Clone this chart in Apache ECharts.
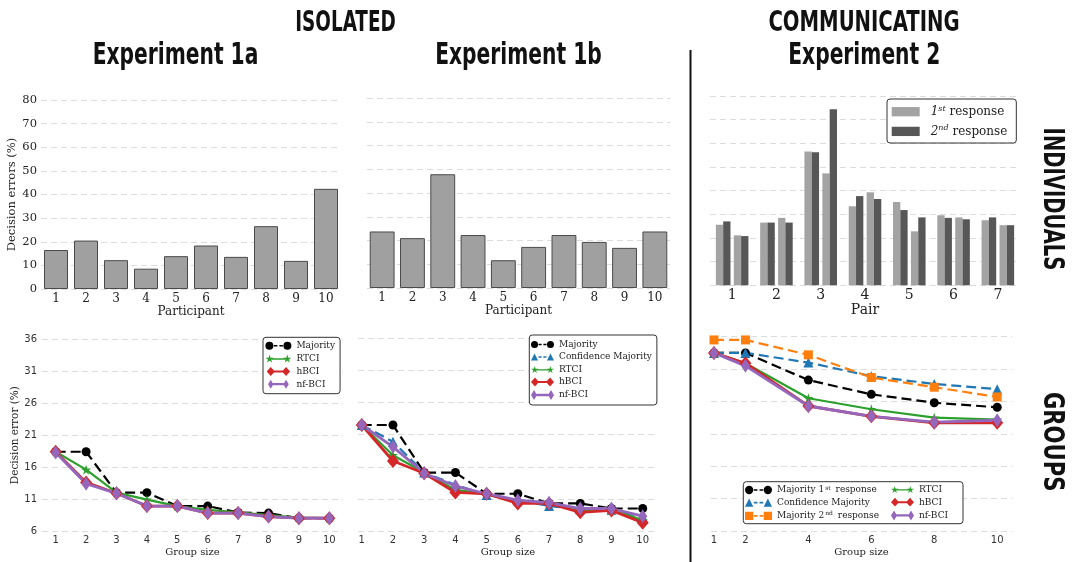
<!DOCTYPE html>
<html><head><meta charset="utf-8">
<script src="https://cdn.jsdelivr.net/npm/echarts@6/dist/echarts.min.js"></script>
<style>html,body{margin:0;padding:0;background:#fff}#c{width:1075px;height:562px}</style>
</head><body><div id="c"></div><script>
// ---------- data ----------
const participants = ['1','2','3','4','5','6','7','8','9','10'];
const exp1aErrors = [16.5, 20.5, 12.2, 8.6, 13.9, 18.4, 13.6, 26.6, 11.9, 42.4];
const exp1bErrors = [23.8, 21.0, 47.9, 22.3, 11.7, 17.3, 22.3, 19.4, 16.9, 23.8];
const pairs = ['1','2','3','4','5','6','7'];
const firstResponse  = [25.6, 21.1, 26.5, 28.5, 56.5, 47.3, 33.4, 39.3, 35.2, 22.8, 29.6, 28.7, 27.5, 25.4];
const secondResponse = [27.0, 20.8, 26.5, 26.5, 56.2, 74.4, 37.7, 36.5, 31.8, 28.7, 28.5, 27.9, 28.7, 25.4];
const groupSizes1 = [1,2,3,4,5,6,7,8,9,10];
const exp1aMajority = [18.4, 18.4, 12.0, 12.0, 9.9, 9.9, 8.9, 8.8, 8.0, 8.0];
const exp1aRTCI     = [18.4, 15.6, 12.0, 10.9, 9.9, 9.3, 8.9, 8.5, 8.1, 8.0];
const exp1aHBCI     = [18.4, 13.6, 11.9, 9.9, 9.9, 8.8, 8.8, 8.25, 8.0, 8.0];
const exp1aNfBCI    = [18.3, 13.4, 11.9, 9.9, 9.9, 8.8, 8.8, 8.25, 8.0, 8.0];
const exp1bMajority     = [22.5, 22.5, 15.1, 15.1, 11.8, 11.8, 10.3, 10.3, 9.5, 9.5];
const exp1bConfMajority = [22.5, 19.9, 15.1, 13.2, 11.6, 10.8, 9.9, 9.4, 9.3, 8.2];
const exp1bRTCI         = [22.5, 17.8, 15.1, 12.4, 11.8, 10.6, 10.3, 9.3, 9.3, 7.7];
const exp1bHBCI         = [22.5, 16.9, 15.0, 12.0, 11.8, 10.3, 10.3, 8.9, 9.2, 7.3];
const exp1bNfBCI        = [22.5, 19.1, 15.0, 13.0, 11.8, 10.8, 10.4, 9.5, 9.5, 8.3];
const groupSizes2 = [1,2,4,6,8,10];
const exp2Majority1    = [33.5, 33.5, 29.3, 27.1, 25.8, 25.1];
const exp2ConfMajority = [33.5, 33.5, 32.0, 29.9, 28.7, 27.9];
const exp2Majority2    = [35.5, 35.5, 33.2, 29.7, 28.2, 26.7];
const exp2RTCI         = [33.5, 31.9, 26.5, 24.8, 23.5, 23.2];
const exp2HBCI         = [33.5, 31.9, 25.3, 23.7, 22.7, 22.7];
const exp2NfBCI        = [33.5, 31.5, 25.3, 23.7, 22.8, 23.1];

// ---------- style ----------
const SERIF = "'DejaVu Serif', serif";
const SANS = "'DejaVu Sans', sans-serif";
const COND = "'DejaVu Sans Condensed','DejaVu Sans',sans-serif";
const C = {maj:'#000000', conf:'#1f77b4', maj2:'#ff7f0e', rtci:'#2ca02c', hbci:'#d62728', nf:'#9467bd'};
const STAR = 'path://M50,0 L61,35 L98,35 L68,57 L79,91 L50,70 L21,91 L32,57 L2,35 L39,35 Z';
const DASHL = ' M8.5,4.2h3.5v1.6h-3.5z M14,4.2h3.5v1.6h-3.5z';
const ICON = {
  circ: 'path://M0,5a4,4 0 1,0 8,0a4,4 0 1,0 -8,0z M18,5a4,4 0 1,0 8,0a4,4 0 1,0 -8,0z' + DASHL,
  tri:  'path://M0,9L4,1L8,9z M18,9L22,1L26,9z' + DASHL,
  sq:   'path://M0,1h8v8h-8z M18,1h8v8h-8z' + DASHL,
  star: 'path://M4,0.5L5,3.6L8.2,3.6L5.6,5.5L6.6,8.6L4,6.7L1.4,8.6L2.4,5.5L-0.2,3.6L3,3.6z M22,0.5L23,3.6L26.2,3.6L23.6,5.5L24.6,8.6L22,6.7L19.4,8.6L20.4,5.5L17.8,3.6L21,3.6z M6,4.2h14v1.4h-14z',
  dia:  'path://M0,5L4.5,0L9,5L4.5,10z M17,5L21.5,0L26,5L21.5,10z M8,3.9h10v2.2h-10z',
  thin: 'path://M1.5,5L4.5,0L7.5,5L4.5,10z M18.5,5L21.5,0L24.5,5L21.5,10z M7,3.8h12v2.4h-12z',
  box:  'path://M0,0h28v9.3h-28z'
};

function pts(xs, ys){ return xs.map((x,i)=>[x, ys[i]]); }
function lineSeries(name, xs, ys, axis, kind){
  const base = {name, type:'line', xAxisIndex:axis, yAxisIndex:axis, data:pts(xs, ys),
    showSymbol:true, animation:false, z:3};
  const dash = [10,5];
  if (kind==='maj')  Object.assign(base,{symbol:'circle', symbolSize:9, itemStyle:{color:C.maj}, lineStyle:{color:C.maj, width:2.2, type:dash}});
  if (kind==='conf') Object.assign(base,{symbol:'triangle', symbolSize:10, itemStyle:{color:C.conf}, lineStyle:{color:C.conf, width:2.2, type:dash}});
  if (kind==='maj2') Object.assign(base,{symbol:'rect', symbolSize:9, itemStyle:{color:C.maj2}, lineStyle:{color:C.maj2, width:2.2, type:dash}});
  if (kind==='rtci') Object.assign(base,{symbol:STAR, symbolSize:10, itemStyle:{color:C.rtci}, lineStyle:{color:C.rtci, width:2.2}});
  if (kind==='hbci') Object.assign(base,{symbol:'diamond', symbolSize:[12,14], itemStyle:{color:C.hbci}, lineStyle:{color:C.hbci, width:2.8}});
  if (kind==='nf')   Object.assign(base,{symbol:'diamond', symbolSize:[9,14], itemStyle:{color:C.nf}, lineStyle:{color:C.nf, width:2.8}});
  return base;
}

function pairRender(k){
  return function(params, api){
    const idx = api.value(0);
    const band = api.size([1,0])[0];
    const w = band*0.165, g = band*0.075;
    const start = -(4*w+g)/2;
    const base = api.coord([idx, 0]);
    const children = [];
    for (let j=0;j<2;j++){
      const top = api.coord([idx, api.value(1+j)]);
      const left = base[0] + start + (2*j+k)*w + j*g;
      children.push({type:'rect', shape:{x:left, y:top[1], width:w, height:base[1]-top[1]},
        style:{fill: api.visual('color')}});
    }
    return {type:'group', children};
  };
}

const gridLine = {show:true, lineStyle:{color:'#dcdcdc', width:1, type:[6,4]}};
const grids = [
  {left:41, top:100, width:300, height:189},
  {left:367, top:98, width:303, height:190},
  {left:710, top:96, width:310, height:189.3},
  {left:42, top:339.3, width:301, height:191.7},
  {left:358, top:338.3, width:300, height:192.7},
  {left:711, top:336.7, width:301, height:194.3}
];
function catX(gi, data, fs, name, gap){
  return {type:'category', gridIndex:gi, data, axisLine:{show:false}, axisTick:{show:false},
    axisLabel:{fontFamily:SERIF, fontSize:fs, color:'#222', margin: fs>12?3:4},
    name, nameLocation:'middle', nameGap:gap, nameTextStyle:{fontFamily:SERIF, fontSize: fs>12?14:12, color:'#222'}};
}
function valX(gi, min, max, labels){
  return {type:'value', gridIndex:gi, min, max, axisLine:{show:false}, axisTick:{show:false}, splitLine:{show:false},
    axisLabel:{customValues:labels, fontFamily:SANS, fontSize:10, color:'#333', margin:4},
    name:'Group size', nameLocation:'middle', nameGap:16, nameTextStyle:{fontFamily:SERIF, fontSize:10, color:'#222'}};
}
function barY(gi, labels, name){
  return {type:'value', gridIndex:gi, min:0, max:80, interval:10, splitLine:gridLine,
    axisLine:{show:false}, axisTick:{show:false},
    axisLabel:{show:labels, fontFamily:SERIF, fontSize:11.5, color:'#222', margin:4},
    name: name||'', nameLocation:'middle', nameGap:17, nameTextStyle:{fontFamily:SERIF, fontSize:11.5, color:'#222'}};
}
function errY(gi, labels, name){
  return {type:'value', gridIndex:gi, min:6, max:36, interval:5, splitLine:gridLine,
    axisLine:{show:false}, axisTick:{show:false},
    axisLabel:{show:labels, fontFamily:SANS, fontSize:10, color:'#333', margin:5},
    name: name||'', nameLocation:'middle', nameGap:19, nameTextStyle:{fontFamily:SERIF, fontSize:10.5, color:'#222'}};
}

const pairData1 = pairs.map((p,i)=>[i, firstResponse[2*i], firstResponse[2*i+1]]);
const pairData2 = pairs.map((p,i)=>[i, secondResponse[2*i], secondResponse[2*i+1]]);

const legendBase = {orient:'vertical', borderColor:'#333', borderWidth:1, borderRadius:3, backgroundColor:'#fff',
  itemStyle:{borderWidth:0}, selectedMode:false, z:10};
const exp2Rich = {
  t:{fontFamily:SERIF, fontSize:9, lineHeight:10, color:'#222'},
  s:{fontFamily:SERIF, fontSize:6, lineHeight:6, verticalAlign:'top', color:'#222', padding:[0,2,0,1]}};

function titleText(text, x, y, size, sx, rot){
  return {type:'text', x, y, scaleX:sx, rotation:rot||0,
    style:{text, fontFamily:COND, fontWeight:'bold', fontSize:size, fill:'#111', align:'center', verticalAlign:'middle'}};
}

const option = {
  animation:false,
  backgroundColor:'#fff',
  grid: grids,
  xAxis: [
    catX(0, participants, 12, 'Participant', 15),
    catX(1, participants, 12, 'Participant', 15),
    catX(2, pairs, 14, 'Pair', 18),
    valX(3, 0.55, 10.45, groupSizes1),
    valX(4, 0.88, 10.49, groupSizes1),
    valX(5, 0.905, 10.47, groupSizes2)
  ],
  yAxis: [
    barY(0, true, 'Decision errors (%)'),
    barY(1, false),
    barY(2, false),
    errY(3, true, 'Decision error (%)'),
    errY(4, false),
    errY(5, false)
  ],
  legend: [
    Object.assign({}, legendBase, {left:887, top:99, padding:[5.7,9,5.6,4.7], itemWidth:28, itemHeight:14, itemGap:6.7,
      data:[{name:'1st response', icon:ICON.box}, {name:'2nd response', icon:ICON.box}],
      formatter: n => n==='1st response' ? '{m|1}{s|st}{t| response}' : '{m|2}{s|nd}{t| response}',
      textStyle:{rich:{
        m:{fontFamily:SERIF, fontStyle:'italic', fontSize:12, lineHeight:14, color:'#222', padding:[0,0,0,6]},
        s:{fontFamily:SERIF, fontStyle:'italic', fontSize:8, lineHeight:9, verticalAlign:'top', color:'#222'},
        t:{fontFamily:SERIF, fontSize:12, lineHeight:14, color:'#222'}}}}),
    Object.assign({}, legendBase, {left:263, top:337.3, padding:[4,5,5,2.4], itemWidth:26, itemHeight:9, itemGap:3.8,
      data:[{name:'Majority', icon:ICON.circ}, {name:'RTCI', icon:ICON.star}, {name:'hBCI', icon:ICON.dia}, {name:'nf-BCI', icon:ICON.thin}],
      textStyle:{fontFamily:SERIF, fontSize:9, color:'#222'}}),
    Object.assign({}, legendBase, {left:529.3, top:335, padding:[5,5,5,1.7], itemWidth:23, itemHeight:10, itemGap:3.5,
      data:[{name:'Majority', icon:ICON.circ}, {name:'Confidence Majority', icon:ICON.tri}, {name:'RTCI', icon:ICON.star}, {name:'hBCI', icon:ICON.dia}, {name:'nf-BCI', icon:ICON.thin}],
      textStyle:{fontFamily:SERIF, fontSize:9, color:'#222'}}),
    Object.assign({}, legendBase, {left:743.3, top:481.7, padding:[3.3,84,3.3,1.7], itemWidth:27, itemHeight:10, itemGap:3.7,
      data:[{name:'Majority 1st response', icon:ICON.circ}, {name:'Confidence Majority', icon:ICON.tri}, {name:'Majority 2nd response', icon:ICON.sq}],
      formatter: n => n==='Majority 1st response' ? '{t|Majority 1}{s|st}{t| response}'
                    : n==='Majority 2nd response' ? '{t|Majority 2}{s|nd}{t| response}' : '{t|'+n+'}',
      textStyle:{rich:exp2Rich}}),
    Object.assign({}, legendBase, {left:891, top:485, padding:0, borderWidth:0, backgroundColor:'transparent', z:11,
      itemWidth:23, itemHeight:10, itemGap:3.7,
      data:[{name:'RTCI', icon:ICON.star}, {name:'hBCI', icon:ICON.dia}, {name:'nf-BCI', icon:ICON.thin}],
      formatter: n => '{t|'+n+'}',
      textStyle:{rich:exp2Rich}})
  ],
  series: [
    {name:'Exp1a', type:'bar', xAxisIndex:0, yAxisIndex:0, data:exp1aErrors, barWidth:'80%',
      itemStyle:{color:'#a0a0a0', borderColor:'#4a4a4a', borderWidth:1}},
    {name:'Exp1b', type:'bar', xAxisIndex:1, yAxisIndex:1, data:exp1bErrors, barWidth:'82%',
      itemStyle:{color:'#a0a0a0', borderColor:'#4a4a4a', borderWidth:1}},
    {name:'1st response', type:'custom', xAxisIndex:2, yAxisIndex:2, data:pairData1, renderItem:pairRender(0),
      encode:{x:0, y:[1,2]}, itemStyle:{color:'#a3a3a3'}},
    {name:'2nd response', type:'custom', xAxisIndex:2, yAxisIndex:2, data:pairData2, renderItem:pairRender(1),
      encode:{x:0, y:[1,2]}, itemStyle:{color:'#575757'}},
    lineSeries('Majority', groupSizes1, exp1aMajority, 3, 'maj'),
    lineSeries('RTCI', groupSizes1, exp1aRTCI, 3, 'rtci'),
    lineSeries('hBCI', groupSizes1, exp1aHBCI, 3, 'hbci'),
    lineSeries('nf-BCI', groupSizes1, exp1aNfBCI, 3, 'nf'),
    lineSeries('Majority', groupSizes1, exp1bMajority, 4, 'maj'),
    lineSeries('Confidence Majority', groupSizes1, exp1bConfMajority, 4, 'conf'),
    lineSeries('RTCI', groupSizes1, exp1bRTCI, 4, 'rtci'),
    lineSeries('hBCI', groupSizes1, exp1bHBCI, 4, 'hbci'),
    lineSeries('nf-BCI', groupSizes1, exp1bNfBCI, 4, 'nf'),
    lineSeries('Majority 1st response', groupSizes2, exp2Majority1, 5, 'maj'),
    lineSeries('Confidence Majority', groupSizes2, exp2ConfMajority, 5, 'conf'),
    lineSeries('Majority 2nd response', groupSizes2, exp2Majority2, 5, 'maj2'),
    lineSeries('RTCI', groupSizes2, exp2RTCI, 5, 'rtci'),
    lineSeries('hBCI', groupSizes2, exp2HBCI, 5, 'hbci'),
    lineSeries('nf-BCI', groupSizes2, exp2NfBCI, 5, 'nf')
  ],
  graphic: [
    {type:'line', shape:{x1:690.5, y1:50, x2:690.5, y2:562}, style:{stroke:'#111', lineWidth:2}},
    titleText('ISOLATED', 345.5, 23.5, 28, 0.73),
    titleText('COMMUNICATING', 864, 23.5, 28, 0.78),
    titleText('Experiment 1a', 175.5, 56, 30, 0.75),
    titleText('Experiment 1b', 518.5, 56, 30, 0.75),
    titleText('Experiment 2', 864.3, 56, 30, 0.75),
    titleText('INDIVIDUALS', 1052, 199, 29, 0.75, -Math.PI/2),
    titleText('GROUPS', 1052, 441.7, 29, 0.81, -Math.PI/2)
  ]
};
const chart = echarts.init(document.getElementById('c'), null, {renderer:'canvas'});
chart.setOption(option);
</script></body></html>
